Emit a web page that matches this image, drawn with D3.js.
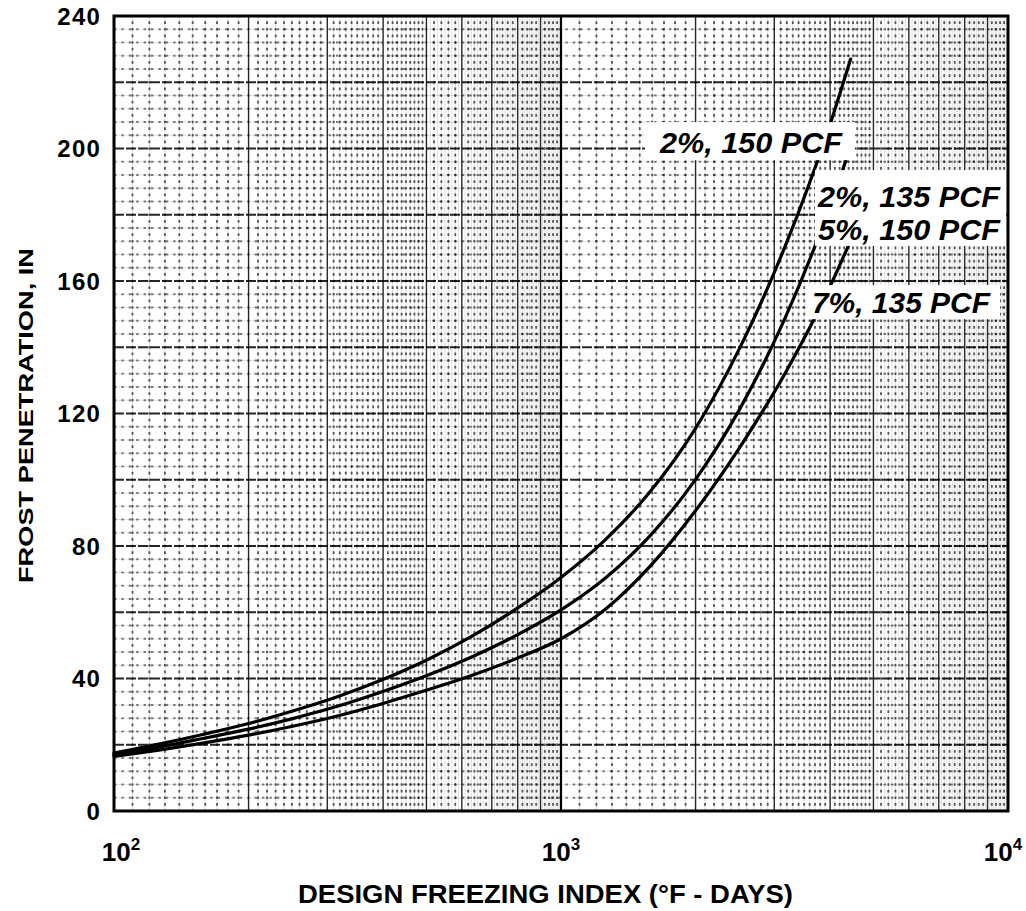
<!DOCTYPE html>
<html>
<head>
<meta charset="utf-8">
<script src="https://cdn.jsdelivr.net/npm/d3@7"></script>
<style>
  html, body { margin: 0; padding: 0; background: #fff; }
  svg { display: block; }
  text { font-family: "Liberation Sans", Arial, Helvetica, sans-serif; font-weight: bold; fill: #000; }
</style>
</head>
<body>
<svg id="chart" width="1026" height="911"></svg>
<script>
// ---- data ----
const freezingIndex = [100, 126, 158, 200, 251, 316, 398, 501, 631, 794, 1000, 1259, 1585, 1995, 2512, 3162, 3981, 4446];
const pen_2pct_150 = [17.5, 20.2, 23.1, 26.4, 30.2, 34.5, 39.6, 45.6, 52.7, 61, 70.5, 82, 96.5, 115.3, 139.8, 170, 206.5, 227];
const pen_2pct_135_5pct_150 = [17, 19.3, 21.9, 24.7, 27.9, 31.6, 36, 40.9, 46.5, 53, 60.7, 70.4, 83.2, 99.9, 121.4, 148.4, 181.9, 200.6];
const pen_7pct_135 = [16.5, 18.4, 20.5, 22.9, 25.6, 28.7, 32.4, 36.5, 40.9, 46, 52, 61, 74, 90.5, 109.8, 131.8, 157.8, 172.2];
const yTickValues = [0, 40, 80, 120, 160, 200, 240];
const xTickValues = [100, 1000, 10000];
const xTickExponents = ["2", "3", "4"];
const curveLabels = ["2%, 150 PCF", "2%, 135 PCF", "5%, 150 PCF", "7%, 135 PCF"];
const labelAnchorFI = [1665, 3758, 3758, 3643];
const labelAnchorPen = [198.6, 182.3, 172.4, 150.3];
const yTitle = "FROST PENETRATION, IN";
const xTitle = "DESIGN FREEZING INDEX (\u00B0F - DAYS)";

// ---- layout ----
const L = 114, R = 1008, T = 16, B = 811;
const svg = d3.select("#chart");
const x = d3.scaleLog().domain([100, 10000]).range([L, R]);
const y = d3.scaleLinear().domain([0, 240]).range([B, T]);
const rowStep = y(0) - y(4);

const grid = svg.append("g");

// vertical grid: integer multiples solid, tenths dotted (fifths dotted above 5)
const vMajor = [], vMinor = [], vFaint = [];
for (const d of [100, 1000]) {
  for (let k = 11; k < 100; k++) {
    const v = d * k / 10;
    if (k % 10 === 0) vMajor.push(v);
    else if (k >= 50 && k % 2 === 1) vFaint.push(v);
    else vMinor.push(v);
  }
}
grid.selectAll("line.vf").data(vMinor.concat(vFaint)).join("line")
  .attr("x1", d => x(d)).attr("x2", d => x(d))
  .attr("y1", T).attr("y2", B)
  .attr("stroke", "#000").attr("stroke-width", 0.8)
  .attr("stroke-opacity", 0.17);
grid.selectAll("line.vmin").data(vMinor).join("line")
  .attr("x1", d => x(d)).attr("x2", d => x(d))
  .attr("y1", B).attr("y2", T)
  .attr("stroke", "#000").attr("stroke-width", 1.9)
  .attr("stroke-opacity", 0.62)
  .attr("stroke-dasharray", `2.6,${rowStep / 2 - 2.6}`)
  .attr("stroke-dashoffset", 1.3);
grid.selectAll("line.vmaj").data(vMajor).join("line")
  .attr("x1", d => x(d)).attr("x2", d => x(d))
  .attr("y1", T).attr("y2", B)
  .attr("stroke", "#000").attr("stroke-width", 1.4)
  .attr("stroke-opacity", 0.85);

// horizontal grid
const hMajor = d3.range(20, 240, 20);
const hMinor = d3.range(4, 240, 4).filter(v => v % 20 !== 0);
grid.selectAll("line.hminf").data(hMinor).join("line")
  .attr("x1", L).attr("x2", R)
  .attr("y1", d => y(d)).attr("y2", d => y(d))
  .attr("stroke", "#000").attr("stroke-width", 0.8)
  .attr("stroke-opacity", 0.15);
grid.selectAll("line.hmin").data(hMinor).join("line")
  .attr("x1", L).attr("x2", R)
  .attr("y1", d => y(d)).attr("y2", d => y(d))
  .attr("stroke", "#000").attr("stroke-width", 1.8)
  .attr("stroke-opacity", 0.5)
  .attr("stroke-dasharray", "2.4,5");
grid.selectAll("line.hmaj").data(hMajor).join("line")
  .attr("x1", L).attr("x2", R)
  .attr("y1", d => y(d)).attr("y2", d => y(d))
  .attr("stroke", "#000").attr("stroke-width", 2)
  .attr("stroke-opacity", 0.85)
  .attr("stroke-dasharray", "10,2");
grid.selectAll("line.dec").data([1000]).join("line")
  .attr("x1", d => x(d)).attr("x2", d => x(d))
  .attr("y1", T).attr("y2", B)
  .attr("stroke", "#000").attr("stroke-width", 2.2);

// curves
const series = [pen_2pct_150, pen_2pct_135_5pct_150, pen_7pct_135];
const line = d3.line()
  .x((d, i) => x(freezingIndex[i]))
  .y(d => y(d))
  .curve(d3.curveMonotoneX);
svg.append("g").selectAll("path").data(series).join("path")
  .attr("d", d => line(d))
  .attr("fill", "none")
  .attr("stroke", "#000")
  .attr("stroke-width", 3.2)
  .attr("stroke-linecap", "round");

// label boxes (white, erasing grid and curve ends)
const boxes = svg.append("g");
function box(x0, y0, x1, y1) {
  boxes.append("rect").attr("x", x0).attr("y", y0)
    .attr("width", x1 - x0).attr("height", y1 - y0).attr("fill", "#fff");
}
const lx = labelAnchorFI.map(v => x(v));
const ly = labelAnchorPen.map(v => y(v));
box(lx[0] - 15, ly[0] - 31, lx[0] + 195, ly[0] + 7);
box(lx[1] - 3, ly[1] - 37, R - 2, ly[2] + 6);
box(lx[3] - 4, ly[3] - 28, lx[3] + 188, ly[3] + 6);

svg.append("g").selectAll("text").data(curveLabels).join("text")
  .attr("x", (d, i) => lx[i])
  .attr("y", (d, i) => ly[i])
  .attr("font-size", 30)
  .attr("font-style", "italic")
  .attr("textLength", (d, i) => i === 3 ? 178 : 182)
  .attr("lengthAdjust", "spacingAndGlyphs")
  .text(d => d);

// frame
svg.append("rect").attr("x", L).attr("y", T)
  .attr("width", R - L).attr("height", B - T)
  .attr("fill", "none").attr("stroke", "#000").attr("stroke-width", 3);

// y tick labels
svg.append("g").selectAll("text").data(yTickValues).join("text")
  .attr("x", 101)
  .attr("y", d => y(d) + 8.5)
  .attr("text-anchor", "end")
  .attr("font-size", 24)
  .attr("letter-spacing", 1.2)
  .text(d => d);

// x tick labels 10^n
const xt = svg.append("g").selectAll("text").data(xTickValues).join("text")
  .attr("x", (d, i) => x(d) + (i === 0 ? 7 : i === 2 ? -5 : 0))
  .attr("y", 861)
  .attr("text-anchor", "middle")
  .attr("font-size", 26);
xt.append("tspan").text("10");
xt.append("tspan").attr("dy", -11).attr("font-size", 17).text((d, i) => xTickExponents[i]);

// axis titles
svg.append("text")
  .attr("x", 298).attr("y", 903)
  .attr("font-size", 26)
  .attr("textLength", 495)
  .attr("lengthAdjust", "spacingAndGlyphs")
  .text(xTitle);
svg.append("text")
  .attr("transform", "translate(33,583) rotate(-90)")
  .attr("font-size", 21)
  .attr("textLength", 335)
  .attr("lengthAdjust", "spacingAndGlyphs")
  .text(yTitle);
</script>
</body>
</html>
